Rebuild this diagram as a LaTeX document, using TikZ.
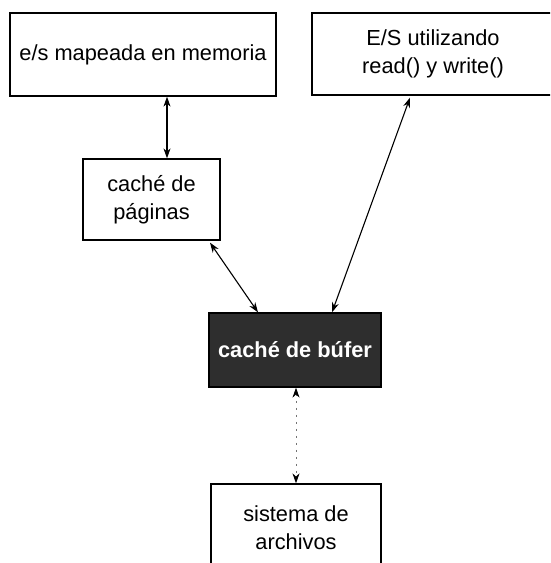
\documentclass[tikz,border=0pt]{standalone}
\usepackage{fontspec}
\setmainfont{Liberation Sans}
\usetikzlibrary{arrows.meta,calc}
\begin{document}
\begin{tikzpicture}[x=1pt,y=-1pt,
  box/.style={draw=black,line width=1.3pt,fill=white,align=center,inner sep=0pt,
    font=\fontsize{21.8}{28}\selectfont},
  link/.style={line width=1.1pt,{Stealth[length=10pt,width=7pt]}-{Stealth[length=10pt,width=7pt]}},
  dotlink/.style={line width=1pt,draw=black!55,dash pattern=on 2pt off 5pt,
    {Stealth[length=10pt,width=7pt,color=black]}-{Stealth[length=10pt,width=7pt,color=black]}}]
\useasboundingbox (0,0) rectangle (550,563);
\clip (0,0) rectangle (550,563);
\fill[white] (0,0) rectangle (550,563);
\node[box,minimum width=266pt,minimum height=83pt] (mm) at (143,54.5) {e/s mapeada en memoria};
\node[box,minimum width=242pt,minimum height=82pt] (rw) at (433,54) {E/S utilizando\\read() y write()};
\node[box,minimum width=137pt,minimum height=81pt] (pc) at (151.5,199.5) {caché de\\páginas};
\node[box,fill=black!82,text=white,minimum width=172pt,minimum height=74pt] (bc) at (295,350) {\bfseries caché de búfer};
\node[box,minimum width=170pt,minimum height=88pt] (fs) at (296,528) {sistema de\\archivos};
\coordinate (xa) at (167,0);
\coordinate (xb) at (210,0);
\coordinate (xc) at (258,0);
\coordinate (xd) at (410,0);
\coordinate (xe) at (332,0);
\coordinate (xf) at (296,0);
\draw[link] (mm.south -| xa) -- (pc.north -| xa);
\draw[link] ($(pc.south -| xb)+(0,2)$) -- (bc.north -| xc);
\draw[link] ($(rw.south -| xd)+(0,2)$) -- (bc.north -| xe);
\draw[dotlink] (bc.south -| xf) -- (fs.north -| xf);
\end{tikzpicture}
\end{document}
